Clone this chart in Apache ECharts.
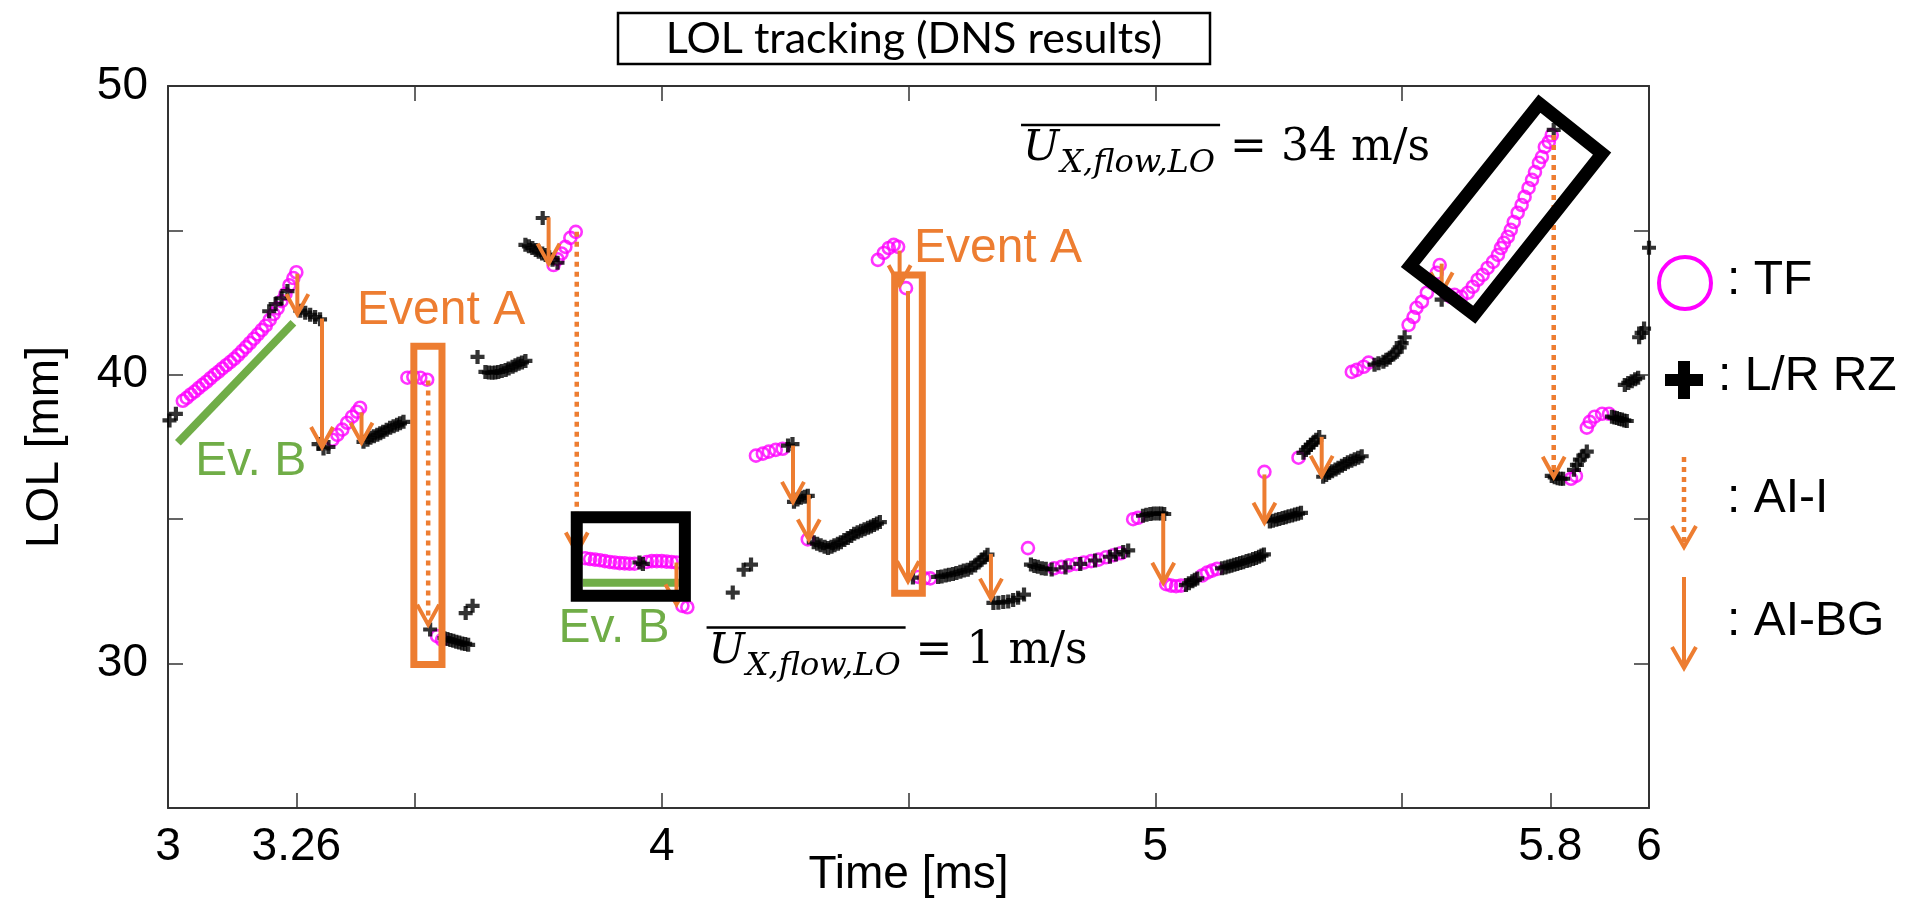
<!DOCTYPE html>
<html><head><meta charset="utf-8">
<script src="https://cdn.jsdelivr.net/npm/echarts@6/dist/echarts.min.js"></script>
<style>html,body{margin:0;padding:0;background:#fff;}#c{width:1913px;height:904px;}</style>
</head><body><div id="c"></div>
<script>
// ---------- axis ticks / labels ----------
const xTickValues = [3.26, 3.5, 4, 4.5, 5, 5.5, 5.8];
const xLabelValues = [3, 3.26, 4, 5, 5.8, 6];
const xTopTickValues = [3.5, 4, 4.5, 5, 5.5];
const yTickValues = [30, 35, 40, 45];
const yLabelValues = [30, 40, 50];

// ---------- TF (magenta circles): [time ms, LOL mm] ----------
const tfPoints = [
[3.03,39.10],[3.038,39.2],[3.046,39.32],[3.054,39.42],[3.062,39.54],[3.07,39.65],[3.078,39.76],[3.086,39.88],[3.094,40.0],[3.102,40.1],
[3.11,40.22],[3.118,40.33],[3.126,40.44],[3.134,40.55],[3.142,40.68],[3.15,40.82],[3.158,40.96],[3.166,41.1],[3.174,41.25],[3.182,41.4],
[3.19,41.55],[3.198,41.7],[3.206,41.9],[3.214,42.1],[3.222,42.3],[3.23,42.55],[3.238,42.8],[3.246,43.1],[3.254,43.35],[3.26,43.55],
[3.333,37.75],[3.343,37.92],[3.353,38.1],[3.363,38.34],[3.373,38.55],[3.383,38.72],[3.389,38.86],
[3.485,39.9],[3.497,39.93],[3.511,39.9],[3.525,39.83],
[3.545,30.95],[3.555,30.82],
[3.781,43.8],[3.789,44.0],[3.797,44.2],[3.805,44.43],[3.815,44.74],[3.826,44.95],
[3.845,33.65],[3.855,33.62],[3.865,33.6],[3.875,33.58],[3.885,33.55],[3.895,33.52],[3.905,33.5],[3.915,33.48],[3.925,33.47],[3.935,33.46],
[3.945,33.46],[3.97,33.52],[3.98,33.55],[3.99,33.55],[4.0,33.55],[4.01,33.53],[4.02,33.52],[4.03,33.5],
[4.042,32.0],[4.052,31.95],
[4.191,37.2],[4.205,37.27],[4.217,37.34],[4.231,37.4],[4.245,37.44],
[4.296,34.3],
[4.438,43.98],[4.45,44.22],[4.46,44.39],[4.47,44.5],[4.479,44.43],[4.495,43.0],
[4.52,33.0],[4.532,32.95],[4.544,32.95],
[4.742,34.0],
[4.795,33.3],[4.81,33.35],[4.825,33.4],[4.84,33.45],[4.855,33.5],[4.87,33.55],[4.885,33.6],[4.9,33.68],[4.915,33.75],[4.93,33.82],
[4.955,35.0],[4.965,35.05],
[5.022,32.75],[5.032,32.7],[5.042,32.68],[5.052,32.7],
[5.095,33.05],[5.105,33.15],[5.115,33.22],[5.125,33.28],
[5.221,36.64],
[5.29,37.13],
[5.398,40.1],[5.408,40.17],[5.422,40.28],[5.432,40.42],
[5.513,41.73],[5.523,42.0],[5.529,42.32],[5.54,42.53],[5.55,42.84],[5.56,43.18],[5.57,43.53],[5.576,43.8],
[5.59,42.8],[5.598,42.7],
[5.606,42.77],[5.62,42.7],[5.633,42.84],[5.643,43.05],[5.653,43.29],[5.663,43.46],[5.673,43.7],[5.684,43.91],[5.694,44.15],[5.7,44.39],
[5.706,44.57],[5.714,44.78],[5.72,45.02],[5.726,45.29],[5.734,45.61],[5.742,45.88],[5.748,46.16],[5.756,46.47],[5.763,46.75],[5.769,47.02],
[5.777,47.34],[5.783,47.54],[5.789,47.89],[5.797,48.06],[5.803,48.3],
[5.842,36.4],[5.852,36.5],
[5.874,38.17],[5.88,38.37],[5.89,38.55],[5.905,38.65],[5.919,38.65]
];

// ---------- L/R RZ (black plus): [time ms, LOL mm] ----------
const rzPoints = [
[3.003,38.42],[3.016,38.65],
[3.205,42.2],[3.218,42.45],[3.23,42.65],[3.242,42.9],
[3.268,42.22],[3.278,42.15],[3.288,42.08],[3.298,42.0],[3.308,41.92],
[3.305,37.6],[3.315,37.45],[3.325,37.5],
[3.396,37.68],[3.404,37.75],[3.41,37.82],[3.417,37.87],[3.424,37.92],[3.43,37.98],[3.436,38.03],[3.443,38.1],[3.45,38.17],[3.457,38.22],[3.464,38.27],[3.47,38.32],[3.477,38.37],
[3.531,31.18],
[3.56,30.88],[3.566,30.85],[3.572,30.82],[3.578,30.79],[3.584,30.76],[3.59,30.73],[3.596,30.7],[3.602,30.68],[3.608,30.65],
[3.603,31.75],[3.617,32.0],
[3.627,40.62],
[3.643,40.1],[3.65,40.08],[3.657,40.07],[3.663,40.08],[3.669,40.1],[3.676,40.13],[3.684,40.17],[3.69,40.22],[3.698,40.28],[3.704,40.33],[3.71,40.38],[3.717,40.43],[3.724,40.48],
[3.759,45.43],
[3.724,44.5],[3.731,44.45],[3.738,44.39],[3.745,44.32],[3.751,44.26],[3.758,44.2],[3.765,44.15],[3.772,44.07],[3.779,43.98],[3.789,43.88],
[3.955,33.5],[3.962,33.45],
[4.144,32.46],[4.166,33.25],[4.181,33.43],
[4.256,37.55],[4.265,37.6],
[4.268,35.6],[4.275,35.68],[4.282,35.74],[4.29,35.78],[4.296,35.81],
[4.308,34.2],[4.315,34.15],[4.322,34.1],[4.33,34.05],[4.337,34.0],[4.344,34.05],[4.35,34.1],[4.357,34.15],[4.363,34.2],[4.37,34.28],[4.377,34.35],
[4.384,34.42],[4.39,34.5],[4.397,34.55],[4.404,34.6],[4.411,34.65],[4.418,34.7],[4.424,34.75],[4.43,34.8],[4.436,34.85],[4.442,34.9],
[4.509,32.98],
[4.56,33.0],[4.567,33.02],[4.575,33.05],[4.582,33.08],[4.59,33.1],[4.597,33.14],[4.605,33.18],[4.612,33.22],[4.62,33.25],[4.627,33.32],[4.635,33.4],[4.642,33.5],[4.648,33.6],[4.655,33.68],[4.66,33.77],
[4.672,32.1],[4.682,32.11],[4.692,32.13],[4.702,32.15],[4.712,32.2],[4.722,32.28],[4.734,32.39],
[4.748,33.43],[4.755,33.38],[4.762,33.35],[4.77,33.3],[4.778,33.28],[4.79,33.26],[4.818,33.33],[4.848,33.45],[4.878,33.57],[4.908,33.7],[4.92,33.78],[4.935,33.86],[4.945,33.92],
[4.975,35.12],[4.982,35.15],[4.99,35.18],[4.997,35.2],[5.005,35.2],[5.012,35.2],[5.018,35.18],
[5.062,32.72],[5.068,32.78],[5.075,32.85],[5.08,32.9],[5.085,32.95],
[5.135,33.3],[5.142,33.33],[5.148,33.36],[5.154,33.39],[5.16,33.42],[5.166,33.45],[5.172,33.48],[5.178,33.51],[5.185,33.55],[5.191,33.58],[5.198,33.62],[5.204,33.66],[5.21,33.7],[5.215,33.74],[5.22,33.78],
[5.232,34.92],[5.238,34.95],[5.245,34.98],[5.251,35.01],[5.258,35.04],[5.264,35.07],[5.27,35.1],[5.277,35.13],[5.283,35.16],[5.289,35.19],[5.295,35.22],
[5.3,37.3],[5.305,37.4],[5.31,37.5],[5.315,37.58],[5.32,37.65],[5.326,37.75],[5.332,37.85],
[5.34,36.47],[5.346,36.53],[5.352,36.6],[5.358,36.66],[5.365,36.72],[5.371,36.78],[5.378,36.85],[5.384,36.91],[5.39,36.97],[5.397,37.02],[5.404,37.08],[5.411,37.13],[5.418,37.18],
[5.444,40.35],[5.452,40.4],[5.462,40.45],[5.468,40.52],[5.475,40.59],[5.482,40.7],[5.489,40.8],[5.495,40.95],[5.499,41.1],[5.505,41.3],
[5.58,42.6],
[5.807,48.48],
[5.803,36.5],[5.809,36.45],[5.815,36.42],[5.821,36.4],[5.826,36.4],
[5.848,36.71],[5.854,36.88],[5.86,37.06],[5.867,37.2],[5.874,37.34],
[5.925,38.55],[5.93,38.52],[5.935,38.5],[5.94,38.47],[5.945,38.45],[5.95,38.42],[5.955,38.4],
[5.951,39.65],[5.958,39.72],[5.965,39.78],[5.972,39.85],[5.978,39.9],
[5.98,41.3],[5.985,41.45],[5.99,41.6],
[6.0,44.4]
];

// ---------- annotations (data coordinates) ----------
// AI-BG solid arrows: [time, LOL from, LOL to]
const arrowsBG = [[3.262,43.5,42.1],[3.312,41.95,37.5],[3.392,38.7,37.65],[3.771,45.45,43.85],[4.03,33.5,32.05],[4.266,37.55,35.6],
  [4.298,35.85,34.3],[4.482,44.3,43.1],[4.499,42.9,32.85],[4.667,33.8,32.25],[5.016,35.2,32.8],[5.221,36.55,34.88],[5.337,37.85,36.5],[5.58,43.85,42.85]];
// AI-I dotted arrows
const arrowsI = [[3.527,39.8,31.35],[3.828,44.95,33.85],[5.807,48.3,36.47]];
// Event A boxes: [x1, y1, x2, y2]
const eventABoxes = [[3.498,29.97,3.555,40.99],[4.472,32.44,4.528,43.46]];
const slowBox = [[3.828,32.35,4.047,35.07]];
const fastBox = [[5.778,49.39,5.905,47.66,5.646,42.08,5.516,43.77]];
const evBLines = [[3.02,37.65,3.254,41.8],[3.84,32.8,4.035,32.8]];
const eventALabels = [[3.383,42.21],[4.511,44.38]];
const evBLabels = [[3.055,36.99],[3.791,31.21]];
const speedLabels = [[4.732,47.30],[4.095,29.9]];
const speedValues = ['34', '1'];

const ORANGE = '#ED7D31', GREEN = '#70AD47', MAGENTA = '#FF00FF';
const SANS = '"Liberation Sans", Arial, sans-serif';
const SERIF = '"DejaVu Serif", serif';

const mctx = document.createElement('canvas').getContext('2d');
function tw(font, s) { mctx.font = font; return mctx.measureText(s).width; }

function arrowRender(dotted) {
  return function (params, api) {
    const p1 = api.coord([api.value(0), api.value(1)]);
    const p2 = api.coord([api.value(0), api.value(2)]);
    return { type: 'group', children: [
      { type: 'line', shape: { x1: p1[0], y1: p1[1], x2: p2[0], y2: p2[1] - 2 },
        style: { stroke: ORANGE, lineWidth: dotted ? 4.5 : 4, lineDash: dotted ? [5, 5] : null } },
      { type: 'polyline', shape: { points: [[p2[0] - 11, p2[1] - 20], [p2[0], p2[1]], [p2[0] + 11, p2[1] - 20]] },
        style: { stroke: ORANGE, lineWidth: 4, fill: null } }
    ] };
  };
}
function rectRender(color, lw) {
  return function (params, api) {
    const a = api.coord([api.value(0), api.value(1)]);
    const b = api.coord([api.value(2), api.value(3)]);
    return { type: 'rect', shape: { x: Math.min(a[0], b[0]), y: Math.min(a[1], b[1]), width: Math.abs(b[0] - a[0]), height: Math.abs(b[1] - a[1]) },
      style: { stroke: color, lineWidth: lw, fill: null } };
  };
}
function textRender(text, color) {
  return function (params, api) {
    const p = api.coord([api.value(0), api.value(1)]);
    return { type: 'text', x: p[0], y: p[1], style: { text: text, fill: color, font: '48px ' + SANS, align: 'left', verticalAlign: 'middle' } };
  };
}

const chart = echarts.init(document.getElementById('c'), null, { renderer: 'canvas' });
const axisLine = { show: true, onZero: false, lineStyle: { color: '#333', width: 2 } };
const tickStyle = { color: '#333', width: 1.5 };

chart.setOption({
  animation: false,
  backgroundColor: '#fff',
  grid: { left: 168, right: 264, top: 86, bottom: 96, containLabel: false, outerBoundsMode: 'none' },
  xAxis: [
    { type: 'value', min: 3, max: 6, position: 'bottom', axisLine: axisLine,
      axisTick: { inside: true, length: 15, customValues: xTickValues, lineStyle: tickStyle },
      axisLabel: { customValues: xLabelValues, fontSize: 46, color: '#000', fontFamily: SANS, margin: 16 },
      splitLine: { show: false },
      name: 'Time [ms]', nameLocation: 'middle', nameGap: 44, nameMoveOverlap: false,
      nameTextStyle: { fontSize: 46, color: '#000', fontFamily: SANS } },
    { type: 'value', min: 3, max: 6, position: 'top', axisLine: axisLine,
      axisTick: { inside: true, length: 15, customValues: xTopTickValues, lineStyle: tickStyle },
      axisLabel: { show: false }, splitLine: { show: false } }
  ],
  yAxis: [
    { type: 'value', min: 25, max: 50, position: 'left', axisLine: axisLine,
      axisTick: { inside: true, length: 15, customValues: yTickValues, lineStyle: tickStyle },
      axisLabel: { customValues: yLabelValues, fontSize: 46, color: '#000', fontFamily: SANS, margin: 20 },
      splitLine: { show: false },
      name: 'LOL [mm]', nameLocation: 'middle', nameGap: 100, nameMoveOverlap: false,
      nameTextStyle: { fontSize: 46, color: '#000', fontFamily: SANS } },
    { type: 'value', min: 25, max: 50, position: 'right', axisLine: axisLine,
      axisTick: { inside: true, length: 15, customValues: yTickValues, lineStyle: tickStyle },
      axisLabel: { show: false }, splitLine: { show: false } }
  ],
  series: [
    { name: 'TF', type: 'scatter', data: tfPoints, symbol: 'circle', symbolSize: 12, clip: false,
      itemStyle: { color: 'rgba(0,0,0,0)', borderColor: MAGENTA, borderWidth: 2.6 }, z: 2 },
    { name: 'L/R RZ', type: 'scatter', data: rzPoints, symbol: 'path://M3.5,0H6.5V3.5H10V6.5H6.5V10H3.5V6.5H0V3.5H3.5Z',
      symbolSize: 14, clip: false, itemStyle: { color: '#000' }, z: 3 },
    { type: 'custom', data: evBLines, z: 4, silent: true,
      renderItem: function (params, api) {
        const a = api.coord([api.value(0), api.value(1)]);
        const b = api.coord([api.value(2), api.value(3)]);
        return { type: 'line', shape: { x1: a[0], y1: a[1], x2: b[0], y2: b[1] }, style: { stroke: GREEN, lineWidth: 8 } };
      } },
    { type: 'custom', data: arrowsBG, z: 5, silent: true, renderItem: arrowRender(false) },
    { type: 'custom', data: arrowsI, z: 5, silent: true, renderItem: arrowRender(true) },
    { type: 'custom', data: eventABoxes, z: 6, silent: true, renderItem: rectRender(ORANGE, 7) },
    { type: 'custom', data: slowBox, z: 6, silent: true, renderItem: rectRender('#000', 12) },
    { type: 'custom', data: fastBox, z: 6, silent: true,
      renderItem: function (params, api) {
        const pts = [];
        for (let i = 0; i < 4; i++) pts.push(api.coord([api.value(2 * i), api.value(2 * i + 1)]));
        return { type: 'polygon', shape: { points: pts }, style: { stroke: '#000', lineWidth: 13, fill: null, lineJoin: 'miter' } };
      } },
    { type: 'custom', data: eventALabels, z: 7, silent: true, renderItem: textRender('Event A', ORANGE) },
    { type: 'custom', data: evBLabels, z: 7, silent: true, renderItem: textRender('Ev. B', GREEN) },
    { type: 'custom', data: speedLabels, z: 7, silent: true,
      renderItem: function (params, api) {
        const p = api.coord([api.value(0), api.value(1)]);
        const fu = 'italic 43px ' + SERIF, fs = 'italic 32px ' + SERIF, fr = '44px ' + SERIF;
        const wU = tw(fu, 'U'), wS = tw(fs, 'X,flow,LO');
        const rest = '= ' + speedValues[params.dataIndex] + ' m/s';
        return { type: 'group', children: [
          { type: 'text', x: p[0], y: p[1] - 0.346 * 43, style: { text: 'U', font: fu, fill: '#000', align: 'left', verticalAlign: 'middle' } },
          { type: 'text', x: p[0] + wU + 1, y: p[1] + 11 - 0.346 * 32, style: { text: 'X,flow,LO', font: fs, fill: '#000', align: 'left', verticalAlign: 'middle' } },
          { type: 'text', x: p[0] + wU + wS + 16, y: p[1] - 0.346 * 44, style: { text: rest, font: fr, fill: '#000', align: 'left', verticalAlign: 'middle' } },
          { type: 'line', shape: { x1: p[0] - 2, y1: p[1] - 39, x2: p[0] + wU + wS + 6, y2: p[1] - 39 }, style: { stroke: '#000', lineWidth: 2.5 } }
        ] };
      } }
  ],
  graphic: [
    { type: 'rect', shape: { x: 618, y: 13, width: 592, height: 51 }, style: { fill: '#fff', stroke: '#000', lineWidth: 2.5 } },
    { type: 'text', x: 914, y: 39, style: { text: 'LOL tracking (DNS results)', font: '43px Lato, sans-serif', fill: '#000', align: 'center', verticalAlign: 'middle' } },
    // legend
    { type: 'circle', shape: { cx: 1685, cy: 283, r: 26 }, style: { fill: null, stroke: MAGENTA, lineWidth: 4 } },
    { type: 'text', x: 1727, y: 281, style: { text: ': TF', font: '48px ' + SANS, fill: '#000', align: 'left', verticalAlign: 'middle' } },
    { type: 'rect', shape: { x: 1665, y: 374, width: 38, height: 12 }, style: { fill: '#000' } },
    { type: 'rect', shape: { x: 1678, y: 361, width: 12, height: 38 }, style: { fill: '#000' } },
    { type: 'text', x: 1718, y: 377, style: { text: ': L/R RZ', font: '48px ' + SANS, fill: '#000', align: 'left', verticalAlign: 'middle' } },
    { type: 'line', shape: { x1: 1684, y1: 457, x2: 1684, y2: 544 }, style: { stroke: ORANGE, lineWidth: 4.5, lineDash: [5, 5] } },
    { type: 'polyline', shape: { points: [[1672, 526], [1684, 547], [1696, 526]] }, style: { stroke: ORANGE, lineWidth: 4, fill: null } },
    { type: 'text', x: 1727, y: 499, style: { text: ': AI-I', font: '48px ' + SANS, fill: '#000', align: 'left', verticalAlign: 'middle' } },
    { type: 'line', shape: { x1: 1684, y1: 577, x2: 1684, y2: 665 }, style: { stroke: ORANGE, lineWidth: 4 } },
    { type: 'polyline', shape: { points: [[1672, 647], [1684, 668], [1696, 647]] }, style: { stroke: ORANGE, lineWidth: 4, fill: null } },
    { type: 'text', x: 1727, y: 622, style: { text: ': AI-BG', font: '48px ' + SANS, fill: '#000', align: 'left', verticalAlign: 'middle' } }
  ]
});
</script></body></html>
